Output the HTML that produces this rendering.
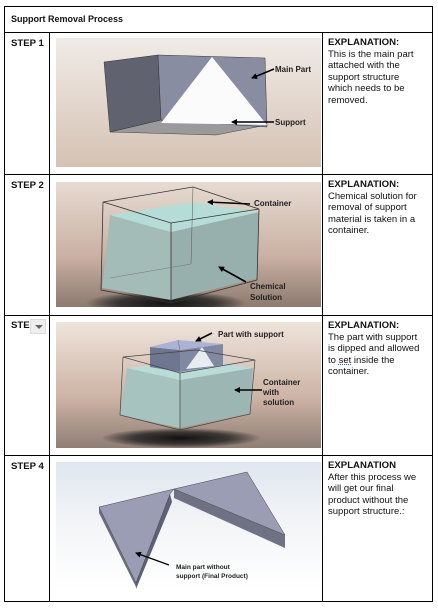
<!DOCTYPE html>
<html><head><meta charset="utf-8">
<style>
body{margin:0;width:438px;height:608px;background:#fff;position:relative;overflow:hidden;font-family:"Liberation Sans",Arial,sans-serif;color:#111}
.ln{position:absolute;background:#000}
.t{position:absolute;font-size:9.5px;line-height:11.6px}
.h{font-weight:bold;font-size:9.6px}
.img{position:absolute;left:56px;width:265px}
.lbl{font-family:"Liberation Sans",sans-serif;font-weight:bold;font-size:8px;fill:#222}
</style></head><body>
<div class="t h" style="left:11px;top:14px;font-size:9px">Support Removal Process</div>
<div class="ln" style="left:4px;top:6px;width:429px;height:1px"></div>
<div class="ln" style="left:4px;top:601px;width:429px;height:1px"></div>
<div class="ln" style="left:4px;top:6px;width:1px;height:596px"></div>
<div class="ln" style="left:432px;top:6px;width:1px;height:596px"></div>
<div class="ln" style="left:4px;top:32px;width:429px;height:1px"></div>
<div class="ln" style="left:4px;top:174px;width:429px;height:1px"></div>
<div class="ln" style="left:4px;top:315px;width:429px;height:1px"></div>
<div class="ln" style="left:4px;top:455px;width:429px;height:1px"></div>
<div class="ln" style="left:49px;top:32px;width:1px;height:570px"></div>
<div class="ln" style="left:322px;top:32px;width:1px;height:570px"></div>

<div class="t h" style="left:11px;top:38px">STEP 1</div>
<div class="t h" style="left:11px;top:180px">STEP 2</div>
<div class="t h" style="left:11px;top:320px">STE</div>
<div style="position:absolute;left:30px;top:319px;width:16px;height:15px;background:#eee;border:1px solid #ddd;box-sizing:border-box"><div style="position:absolute;left:4px;top:5px;border-left:4px solid transparent;border-right:4px solid transparent;border-top:4px solid #666"></div></div>
<div class="t h" style="left:11px;top:461px">STEP 4</div>

<div class="t" style="left:328px;top:37px;width:97px"><span class="h">EXPLANATION:</span><br>This is the main part attached with the support structure which needs to be removed.</div>
<div class="t" style="left:328px;top:179px;width:97px"><span class="h">EXPLANATION:</span><br>Chemical solution for removal of support material is taken in a container.</div>
<div class="t" style="left:328px;top:320px;width:97px"><span class="h">EXPLANATION:</span><br>The part with support is dipped and allowed to <u style="text-decoration-style:dotted;text-decoration-color:#36c">set</u> inside the container.</div>
<div class="t" style="left:328px;top:460px;width:97px"><span class="h">EXPLANATION</span><br>After this process we will get our final product without the support structure.:</div>

<svg width="0" height="0" style="position:absolute"><defs>
<marker id="ah" markerWidth="6" markerHeight="6" refX="5" refY="3" orient="auto" markerUnits="userSpaceOnUse"><path d="M0,0 L6,3 L0,6 z" fill="#000"/></marker>
<radialGradient id="sh" cx="0.5" cy="0.5" r="0.5"><stop offset="0" stop-color="#111"/><stop offset="0.6" stop-color="#222" stop-opacity="0.8"/><stop offset="1" stop-color="#111" stop-opacity="0"/></radialGradient>
</defs></svg>

<svg class="img" style="top:38px;height:129px" viewBox="0 0 265 129">
<defs><linearGradient id="g1" x1="0" y1="0" x2="0" y2="1"><stop offset="0" stop-color="#f0ebe7"/><stop offset="1" stop-color="#d5c2b3"/></linearGradient></defs>
<rect width="265" height="129" fill="url(#g1)"/>
<polygon points="54,94 105,82 211,87 160,97" fill="#9a9a9c" stroke="#444" stroke-width="0.5"/>
<polygon points="48,24 102,17 105,82 54,94" fill="#60626f" stroke="#333" stroke-width="0.5"/>
<polygon points="102,17 209,20 211,89 105,82" fill="#898da2" stroke="#333" stroke-width="0.5"/>
<polygon points="156,19 105,85 211,87" fill="#fbfbfb"/>
<line x1="218" y1="31" x2="196" y2="40" stroke="#000" stroke-width="1.5" marker-end="url(#ah)"/>
<text class="lbl" x="219" y="34">Main Part</text>
<line x1="218" y1="84" x2="176" y2="84" stroke="#000" stroke-width="1.5" marker-end="url(#ah)"/>
<text class="lbl" x="219" y="87">Support</text>
</svg>

<svg class="img" style="top:182px;height:125px" viewBox="0 0 265 125">
<defs><linearGradient id="g2" x1="0" y1="0" x2="0" y2="1"><stop offset="0" stop-color="#e7dbd2"/><stop offset="0.6" stop-color="#c9b0a2"/><stop offset="1" stop-color="#8c7a70"/></linearGradient></defs>
<rect width="265" height="125" fill="url(#g2)"/>
<ellipse cx="110" cy="121" rx="80" ry="12" fill="url(#sh)"/>
<polygon points="54,33 115,50 115,118 46,106" fill="#a4bcb8"/>
<polygon points="115,50 203,30 201,96 115,118" fill="#97b0ad"/>
<polygon points="54,33 137,20 203,30 115,50" fill="#b6dcd8"/>
<polygon points="47,20 137,5 203,27 115,41" fill="none" stroke="#333" stroke-width="0.8"/>
<polyline points="47,20 45,108 115,121 115,41" fill="none" stroke="#333" stroke-width="0.8"/>
<polyline points="115,121 201,98 203,27" fill="none" stroke="#333" stroke-width="0.8"/>
<line x1="137" y1="5" x2="135" y2="82" stroke="#555" stroke-width="0.5"/>
<line x1="54" y1="96" x2="135" y2="82" stroke="#777" stroke-width="0.5"/>
<line x1="194" y1="22" x2="152" y2="20" stroke="#000" stroke-width="1.6" marker-end="url(#ah)"/>
<text class="lbl" x="198" y="24">Container</text>
<line x1="190" y1="100" x2="163" y2="85" stroke="#000" stroke-width="1.6" marker-end="url(#ah)"/>
<text class="lbl" x="194" y="107">Chemical</text>
<text class="lbl" x="194" y="118">Solution</text>
</svg>

<svg class="img" style="top:322px;height:126px" viewBox="0 0 265 126">
<defs><linearGradient id="g3" x1="0" y1="0" x2="0" y2="1"><stop offset="0" stop-color="#eee4db"/><stop offset="0.6" stop-color="#cdb3a5"/><stop offset="1" stop-color="#8f7e75"/></linearGradient></defs>
<rect width="265" height="126" fill="url(#g3)"/>
<ellipse cx="125" cy="116" rx="80" ry="10" fill="url(#sh)"/>
<polygon points="71,46 124,58 124,106 64,93" fill="#a7c3bf"/>
<polygon points="124,58 197,46 194,91 124,106" fill="#9cb7b3"/>
<polygon points="71,46 140,38 197,46 124,58" fill="#b9dcd7"/>
<polygon points="94,25 124,28 124,50 94,45" fill="#6f7790"/>
<polygon points="124,28 167,22 167,43 124,50" fill="#8088a2"/>
<polygon points="146,25 130,47 158,44" fill="#e8ecf0"/>
<polygon points="94,25 122,18 167,22 124,28" fill="#aab2d6"/>
<line x1="122" y1="18" x2="124" y2="28" stroke="#667" stroke-width="0.5"/>
<polygon points="67,35 140,28 199,38 124,51" fill="none" stroke="#444" stroke-width="0.7"/>
<polyline points="67,35 64,93 124,108 124,51" fill="none" stroke="#444" stroke-width="0.7"/>
<polyline points="124,108 194,92 199,38" fill="none" stroke="#444" stroke-width="0.7"/>
<line x1="156" y1="11" x2="140" y2="19" stroke="#000" stroke-width="1.6" marker-end="url(#ah)"/>
<text class="lbl" x="162" y="15">Part with support</text>
<line x1="206" y1="68" x2="179" y2="68" stroke="#000" stroke-width="1.6" marker-end="url(#ah)"/>
<text class="lbl" x="207" y="63">Container</text>
<text class="lbl" x="207" y="73">with</text>
<text class="lbl" x="207" y="83">solution</text>
</svg>

<svg class="img" style="top:462px;height:128px" viewBox="0 0 265 128">
<defs><linearGradient id="g4" x1="0" y1="0" x2="0" y2="1"><stop offset="0" stop-color="#dfe6ef"/><stop offset="0.5" stop-color="#f4f5f7"/><stop offset="1" stop-color="#ffffff"/></linearGradient></defs>
<rect width="265" height="128" fill="url(#g4)"/>
<polygon points="43,45 80,121 80,125 43,51" fill="#6c6f80"/>
<polygon points="118,27 118,36 229,86 229,73" fill="#6f7284"/>
<polygon points="80,121 114,32 116,40 80,127" fill="#5e6173"/>
<polygon points="43,45 118,27 114,32 80,121" fill="#9a9db3" stroke="#444" stroke-width="0.5"/>
<polygon points="118,27 191,10 229,73" fill="#9a9db3" stroke="#444" stroke-width="0.5"/>
<line x1="113" y1="103" x2="80" y2="91" stroke="#000" stroke-width="1.2" marker-end="url(#ah)"/>
<text class="lbl" x="120" y="107" style="font-size:6.5px">Main part without</text>
<text class="lbl" x="120" y="116" style="font-size:6.5px">support (Final Product)</text>
</svg>
</body></html>
